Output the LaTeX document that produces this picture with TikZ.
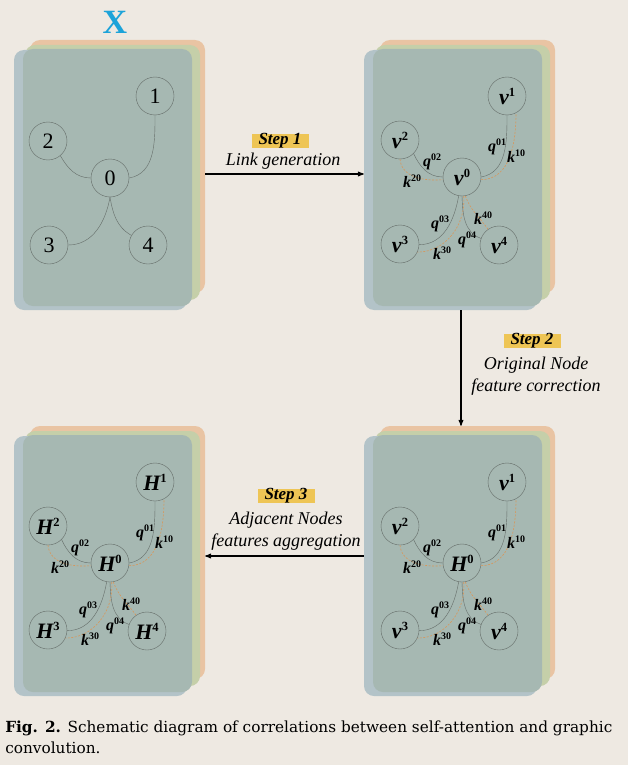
\documentclass[tikz,border=0pt]{standalone}
\usepackage{fontspec}
\setmainfont{Liberation Serif}
\newfontfamily\capfont{DejaVu Serif}
\usepackage{tikz}
\usetikzlibrary{arrows,automata}
\usepackage{color}
\definecolor{bgcol}{HTML}{EEE9E2}
\definecolor{cardorange}{HTML}{E9C4A3}
\definecolor{cardgreen}{HTML}{C5CFA9}
\definecolor{cardblue}{HTML}{B3C3C8}
\definecolor{cardfront}{HTML}{A6B8B2}
\definecolor{nodegray}{HTML}{656D69}
\definecolor{kcol}{HTML}{D8965A}
\definecolor{stepyellow}{HTML}{EEC555}
\definecolor{xcyan}{HTML}{1CA3D9}
% node and edge labels
\newcommand{\nd}[2]{{\bfseries\itshape #1}\raisebox{8pt}{\fontsize{12.5}{12.5}\selectfont\bfseries #2}}
\newcommand{\ed}[2]{{\bfseries\itshape #1}\raisebox{5.5pt}{\fontsize{10}{10}\selectfont\bfseries #2}}

\begin{document}
\begin{tikzpicture}[x=1pt,y=1pt,>=stealth',semithick,
		card/.style={draw=none,rounded corners=10pt,inner sep=0pt},
		qline/.style={draw=nodegray,thin},
		kline/.style={draw=kcol,line width=0.6pt,dash pattern=on 2pt off 1.5pt},
		lab/.style={inner sep=0pt,font=\fontsize{16}{16}\selectfont},
		stepbox/.style={fill=stepyellow,inner sep=0pt,minimum width=57pt,minimum height=14pt,font=\fontsize{17}{17}\selectfont\bfseries\itshape},
		steptext/.style={align=center,font=\fontsize{18}{22}\selectfont\itshape},
		steparrow/.style={->,line width=1.1pt}]
		\tikzstyle{every state}=[draw=nodegray,thin,fill=none,minimum size=38pt,inner sep=0pt,text=black,font=\fontsize{22}{22}\selectfont]
		
		\useasboundingbox (0,0) rectangle (628,-765);
		\fill[bgcol] (0,0) rectangle (628,-765);
		
		% card stacks
		\foreach \p/\px/\py in {1/23/49,2/373/49,3/23/435,4/373/435}{
			\node[card,fill=cardorange,minimum width=175pt,minimum height=253pt] (o\p) at (\px+94.5,-\py-117.5) {};
			\node[card,fill=cardgreen,minimum width=175pt,minimum height=255pt] (g\p) at (\px+89.5,-\py-123.5) {};
			\node[card,fill=cardblue,minimum width=173pt,minimum height=260pt] (b\p) at (\px+77.5,-\py-131) {};
			\node[card,fill=cardfront,minimum width=169pt,minimum height=257pt] (f\p) at (\px+84.5,-\py-128.5) {};
		}
		
		\node[text=xcyan,font=\fontsize{34}{34}\selectfont\bfseries] (X) at (115,-22) {X};
		
		% input graph
		\node[state] (n0) at (110,-178) {0};
		\node[state] (n1) at (155,-96)  {1};
		\node[state] (n2) at (48,-141)  {2};
		\node[state] (n3) at (49,-245)  {3};
		\node[state] (n4) at (148,-245) {4};
		
		\path (n0.east) edge[qline,out=10,in=-90] (n1.south)
		(n2.-50) edge[qline,out=-60,in=180] (n0.west)
		(n0.south) edge[qline,out=-100,in=0] (n3.east)
		(n0.south) edge[qline,out=-80,in=150] (n4.150);
		
		% query/key graphs
		\foreach \dx/\dy/\c/\o in {0/0/v/v,-352/-386/H/H,0/-386/H/v}{
			\begin{scope}[shift={(\dx,\dy)}]
				\node[state] (c0) at (462,-177) {\nd{\c}{0}};
				\node[state] (c1) at (507,-96)  {\nd{\o}{1}};
				\node[state] (c2) at (400,-140) {\nd{\o}{2}};
				\node[state] (c3) at (400,-244) {\nd{\o}{3}};
				\node[state] (c4) at (499,-245) {\nd{\o}{4}};
				
				\path (c0.east) edge[qline,out=10,in=-90] (c1.south)
				(c0.-8) edge[kline,out=0,in=-90] (c1.-62)
				(c2.-45) edge[qline,out=-65,in=180] (c0.west)
				(c2.-90) edge[kline,out=-85,in=185] (c0.188)
				(c0.-100) edge[qline,out=-100,in=0] (c3.-2)
				(c0.-85) edge[kline,out=-85,in=0] (c3.-25)
				(c0.-90) edge[qline,out=-88,in=160] (c4.160)
				(c0.-80) edge[kline,out=-70,in=125] (c4.125);
				
				\node[lab] (q01) at (497,-147) {\ed{q}{01}};
				\node[lab] (k10) at (516,-156) {\ed{k}{10}};
				\node[lab] (q02) at (432,-162) {\ed{q}{02}};
				\node[lab] (k20) at (412,-181) {\ed{k}{20}};
				\node[lab] (q03) at (440,-224) {\ed{q}{03}};
				\node[lab] (k30) at (442,-253) {\ed{k}{30}};
				\node[lab] (q04) at (467,-240) {\ed{q}{04}};
				\node[lab] (k40) at (483,-218) {\ed{k}{40}};
			\end{scope}
		}
		
		% steps
		\coordinate (a1) at (285,-174);
		\coordinate (a2) at (461,-370);
		\coordinate (a3) at (285,-556);
		\node[stepbox] (st1) at (280,-141) {Step 1};
		\node[steptext] (t1) at (283,-161) {Link generation};
		\node[stepbox] (st2) at (532,-341) {Step 2};
		\node[steptext] (t2) at (536,-376) {Original Node\\feature correction};
		\node[stepbox] (st3) at (286,-496) {Step 3};
		\node[steptext] (t3) at (286,-531) {Adjacent Nodes\\features aggregation};
		
		\draw[steparrow] (o1.east |- a1) -- (b2.west |- a1);
		\draw[steparrow] (b2.south -| a2) -- (o4.north -| a2);
		\draw[steparrow] (b4.west |- a3) -- (o3.east |- a3);
		
		\node[anchor=base west,align=left,inner sep=0pt,font=\capfont\fontsize{15.3}{21}\selectfont] (cap) at (5,-753)
		{{\bfseries Fig. 2.} Schematic diagram of correlations between self-attention and graphic\\convolution.};
\end{tikzpicture}
\end{document}
